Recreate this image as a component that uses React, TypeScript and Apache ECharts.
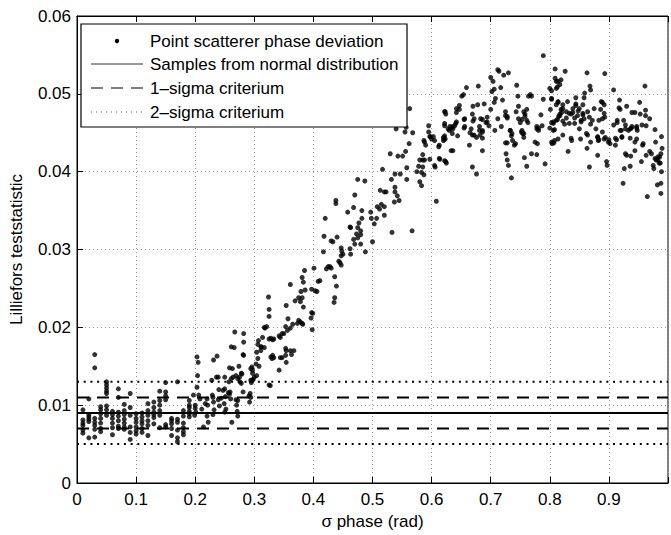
import React, { useEffect, useRef } from "react";
import * as echarts from "echarts";

// ---- data ----
const xTicks = [0, 0.1, 0.2, 0.3, 0.4, 0.5, 0.6, 0.7, 0.8, 0.9, 1];
const yTicks = [0, 0.01, 0.02, 0.03, 0.04, 0.05, 0.06];

// low region: columns of samples at sigma = 0.01 .. 0.19
const lowSigma = [0.01, 0.02, 0.03, 0.04, 0.05, 0.06, 0.07, 0.08, 0.09, 0.1, 0.11, 0.12, 0.13, 0.14, 0.15, 0.16, 0.17, 0.18, 0.19];
const lowStats = [
  [0.0094, 0.0081, 0.0077, 0.0074, 0.0068, 0.0064],
  [0.0108, 0.0088, 0.0085, 0.0082, 0.0079, 0.0058],
  [0.0165, 0.0148, 0.0083, 0.0078, 0.0074, 0.0069, 0.0059],
  [0.0098, 0.0094, 0.0089, 0.0083, 0.0077, 0.007, 0.0066],
  [0.013, 0.0126, 0.0122, 0.0118, 0.0115, 0.0099, 0.0094, 0.0087],
  [0.0092, 0.0088, 0.0083, 0.0077, 0.0071, 0.0062],
  [0.0121, 0.011, 0.0091, 0.0086, 0.008, 0.0073, 0.007],
  [0.0101, 0.0093, 0.0088, 0.0082, 0.0077, 0.0072, 0.0069],
  [0.0115, 0.0097, 0.0087, 0.0072, 0.0065, 0.0056],
  [0.0089, 0.0083, 0.0078, 0.0072, 0.0067, 0.0063],
  [0.009, 0.0085, 0.008, 0.0076, 0.007, 0.0065],
  [0.0102, 0.0093, 0.0087, 0.008, 0.0074, 0.0061],
  [0.0104, 0.0097, 0.0091, 0.0088, 0.0084, 0.0076],
  [0.0118, 0.0106, 0.01, 0.0093, 0.0087, 0.0071],
  [0.0129, 0.0117, 0.0112, 0.0107, 0.0075, 0.0072],
  [0.0083, 0.008, 0.0076, 0.007, 0.0061],
  [0.013, 0.0082, 0.0078, 0.0068, 0.0058, 0.0053],
  [0.0093, 0.0086, 0.0077, 0.0071, 0.0066, 0.0062],
  [0.0106, 0.01, 0.0097, 0.0092, 0.0089, 0.0085],
];

// [sigma, statistic] pairs
const risePoints = [
  [0.2, 0.01], [0.2, 0.0096], [0.201, 0.0091], [0.199, 0.0087], [0.197, 0.0113],
  [0.203, 0.0162], [0.205, 0.0155], [0.204, 0.0138], [0.203, 0.0123], [0.206, 0.0113], [0.208, 0.0108], [0.211, 0.0095], [0.214, 0.0072],
  [0.217, 0.0102], [0.22, 0.0108], [0.221, 0.01], [0.22, 0.0086], [0.222, 0.0078],
  [0.228, 0.0132], [0.231, 0.0158], [0.229, 0.0113], [0.231, 0.0104], [0.23, 0.011], [0.232, 0.0094], [0.23, 0.0088],
  [0.237, 0.0163], [0.236, 0.0136], [0.239, 0.0136], [0.24, 0.012], [0.239, 0.0107], [0.241, 0.0099],
  [0.244, 0.0109], [0.247, 0.0119], [0.25, 0.0136], [0.25, 0.0121], [0.251, 0.0111], [0.249, 0.0102], [0.252, 0.0095], [0.25, 0.0091],
  [0.256, 0.0116], [0.258, 0.0148], [0.258, 0.0114], [0.257, 0.013], [0.261, 0.0134], [0.263, 0.0147], [0.264, 0.0136], [0.261, 0.0175], [0.259, 0.0117], [0.26, 0.0108], [0.262, 0.0078],
  [0.267, 0.0194], [0.266, 0.0174], [0.269, 0.0138], [0.269, 0.0107], [0.27, 0.01], [0.271, 0.0092], [0.272, 0.0086], [0.272, 0.0134], [0.272, 0.0106],
  [0.274, 0.015], [0.275, 0.0136], [0.276, 0.013], [0.278, 0.0141], [0.278, 0.0128], [0.279, 0.014],
  [0.281, 0.0165], [0.282, 0.0164], [0.282, 0.0181], [0.282, 0.0192], [0.281, 0.0117],
  [0.291, 0.0112], [0.292, 0.0104], [0.293, 0.0115], [0.294, 0.011], [0.294, 0.0147], [0.294, 0.0132], [0.295, 0.0129], [0.296, 0.0149], [0.296, 0.0132], [0.297, 0.0141], [0.297, 0.0145], [0.298, 0.0133], [0.3, 0.0136],
];

const midPoints = [
  [0.303, 0.0153], [0.304, 0.0168], [0.304, 0.0138], [0.306, 0.016], [0.306, 0.0178], [0.307, 0.0183], [0.308, 0.015],
  [0.311, 0.017], [0.311, 0.0175], [0.312, 0.0175], [0.314, 0.0187], [0.317, 0.0174], [0.317, 0.02], [0.318, 0.0199], [0.321, 0.0201],
  [0.324, 0.0239], [0.325, 0.0223], [0.325, 0.0214], [0.325, 0.0185], [0.325, 0.0126], [0.327, 0.0125], [0.328, 0.0186], [0.328, 0.0162],
  [0.33, 0.016], [0.331, 0.0184], [0.331, 0.0164], [0.333, 0.0185], [0.333, 0.0161],
  [0.342, 0.0189], [0.342, 0.0145], [0.344, 0.0187], [0.344, 0.0161], [0.347, 0.0192], [0.347, 0.0161], [0.35, 0.0192],
  [0.353, 0.0201], [0.353, 0.0173], [0.353, 0.0164], [0.354, 0.017], [0.354, 0.0155], [0.354, 0.0228], [0.356, 0.0196], [0.357, 0.0211],
  [0.361, 0.0255], [0.361, 0.0199], [0.361, 0.017], [0.363, 0.0165], [0.365, 0.0204], [0.367, 0.017], [0.369, 0.0234],
  [0.373, 0.0205], [0.375, 0.0238], [0.375, 0.0209], [0.378, 0.0233], [0.378, 0.0207], [0.379, 0.0246],
  [0.381, 0.0264], [0.381, 0.0238], [0.381, 0.0205], [0.382, 0.0204], [0.383, 0.0258], [0.383, 0.0226], [0.385, 0.0273], [0.386, 0.0248],
  [0.396, 0.0212], [0.397, 0.0249], [0.397, 0.0219], [0.398, 0.0197], [0.399, 0.0218],
  [0.401, 0.0276], [0.403, 0.0247], [0.406, 0.0246], [0.408, 0.0259], [0.411, 0.026],
  [0.417, 0.0297], [0.418, 0.0317], [0.42, 0.034], [0.422, 0.0275], [0.425, 0.0278], [0.428, 0.0278], [0.43, 0.0276], [0.43, 0.0311], [0.433, 0.031],
  [0.435, 0.0232], [0.436, 0.0238], [0.436, 0.0265], [0.438, 0.0363], [0.438, 0.0359], [0.439, 0.0253], [0.44, 0.0316], [0.443, 0.0285], [0.445, 0.0283], [0.447, 0.028], [0.447, 0.0302], [0.447, 0.0292], [0.448, 0.0298],
];

const upperRisePoints = [
  [0.45, 0.0294], [0.458, 0.0348], [0.462, 0.0301], [0.462, 0.0329], [0.463, 0.0294], [0.463, 0.0328], [0.468, 0.0354], [0.468, 0.0313], [0.47, 0.037], [0.47, 0.0307],
  [0.473, 0.032], [0.475, 0.039], [0.475, 0.0315], [0.475, 0.0328], [0.477, 0.0334], [0.48, 0.0324], [0.48, 0.0319], [0.48, 0.0307], [0.482, 0.035], [0.482, 0.034],
  [0.487, 0.0388], [0.488, 0.0297], [0.497, 0.0348], [0.498, 0.034], [0.5, 0.031], [0.503, 0.0333], [0.507, 0.034],
  [0.508, 0.0355], [0.512, 0.0352], [0.513, 0.0376], [0.515, 0.0358], [0.517, 0.0403], [0.52, 0.0374], [0.52, 0.0344], [0.52, 0.0355], [0.523, 0.0374],
  [0.53, 0.0423], [0.532, 0.039], [0.533, 0.0322], [0.537, 0.0361], [0.538, 0.0397], [0.538, 0.038], [0.538, 0.0374], [0.54, 0.0455], [0.542, 0.0369], [0.543, 0.042], [0.545, 0.0363], [0.547, 0.0397],
  [0.551, 0.042], [0.555, 0.0451], [0.556, 0.0426], [0.557, 0.0457], [0.558, 0.0405], [0.558, 0.039], [0.562, 0.0436], [0.563, 0.0481], [0.567, 0.0324], [0.568, 0.045],
  [0.575, 0.04], [0.578, 0.0407], [0.58, 0.0415], [0.58, 0.0387], [0.583, 0.0399], [0.583, 0.0382], [0.585, 0.0422], [0.585, 0.0415], [0.585, 0.0406], [0.587, 0.044], [0.587, 0.0396], [0.588, 0.0438], [0.588, 0.0415], [0.59, 0.0434],
  [0.595, 0.0459], [0.595, 0.0451], [0.597, 0.0445], [0.597, 0.0416], [0.598, 0.0445], [0.6, 0.0442],
];

const plateauPoints = [
  [0.603, 0.0445], [0.605, 0.044], [0.605, 0.0408], [0.606, 0.0406], [0.608, 0.0362], [0.612, 0.0432], [0.613, 0.0434], [0.613, 0.0417], [0.614, 0.0416],
  [0.62, 0.0444], [0.62, 0.044], [0.621, 0.0442], [0.622, 0.0446], [0.622, 0.0462], [0.622, 0.0459], [0.622, 0.0414], [0.623, 0.0477], [0.623, 0.0442], [0.624, 0.0474], [0.624, 0.0413], [0.625, 0.0411],
  [0.628, 0.0455], [0.63, 0.0453], [0.632, 0.0455], [0.633, 0.0427], [0.635, 0.0449], [0.636, 0.0455], [0.636, 0.0427], [0.639, 0.0459], [0.642, 0.0464], [0.642, 0.0476], [0.644, 0.0446], [0.647, 0.048],
  [0.651, 0.0497], [0.654, 0.0499], [0.655, 0.0456], [0.655, 0.0467], [0.659, 0.0508], [0.664, 0.0434], [0.665, 0.045], [0.667, 0.0455], [0.669, 0.0447], [0.669, 0.0406], [0.67, 0.0484], [0.67, 0.0465],
  [0.672, 0.0447], [0.676, 0.0444], [0.676, 0.0397], [0.678, 0.0486], [0.679, 0.051], [0.681, 0.0453], [0.682, 0.0447], [0.683, 0.0468], [0.686, 0.0443], [0.686, 0.0467], [0.686, 0.0451], [0.686, 0.0427], [0.689, 0.0487],
  [0.692, 0.0463], [0.694, 0.047], [0.697, 0.0459], [0.7, 0.0521], [0.7, 0.048], [0.702, 0.0503], [0.704, 0.0516], [0.706, 0.0489], [0.707, 0.0453],
  [0.712, 0.0531], [0.712, 0.0468], [0.714, 0.0529], [0.717, 0.0508], [0.718, 0.0458], [0.722, 0.0524], [0.725, 0.0472], [0.725, 0.0437], [0.726, 0.0423], [0.728, 0.0469], [0.728, 0.0437], [0.728, 0.0415],
  [0.73, 0.0527], [0.73, 0.0408], [0.733, 0.0453], [0.735, 0.0446], [0.735, 0.0392], [0.737, 0.044], [0.74, 0.0434], [0.742, 0.0436], [0.743, 0.0477], [0.744, 0.0511], [0.746, 0.0497], [0.747, 0.0484],
  [0.75, 0.0463], [0.752, 0.0451], [0.753, 0.0467], [0.754, 0.0449], [0.756, 0.0444], [0.756, 0.0477], [0.757, 0.0418], [0.758, 0.0474], [0.761, 0.048], [0.761, 0.0407], [0.763, 0.0463], [0.764, 0.0497], [0.767, 0.0499], [0.769, 0.0497], [0.769, 0.0423],
  [0.775, 0.0438], [0.778, 0.0422], [0.778, 0.0455], [0.779, 0.0436], [0.781, 0.0456], [0.785, 0.0473], [0.787, 0.0459], [0.789, 0.0493], [0.789, 0.0549], [0.792, 0.041],
  [0.801, 0.048], [0.803, 0.0504], [0.803, 0.0493], [0.803, 0.0463], [0.804, 0.0436], [0.806, 0.0462], [0.807, 0.0437], [0.808, 0.0454], [0.809, 0.052], [0.811, 0.0516], [0.811, 0.0486], [0.813, 0.0509], [0.813, 0.0467], [0.814, 0.0489], [0.814, 0.0442], [0.815, 0.0471], [0.817, 0.0512], [0.817, 0.0474], [0.819, 0.0518], [0.819, 0.048], [0.82, 0.0476],
  [0.822, 0.0486], [0.822, 0.0465], [0.825, 0.0461], [0.826, 0.0529], [0.828, 0.0469], [0.83, 0.049], [0.831, 0.0426], [0.833, 0.0462], [0.836, 0.0474], [0.837, 0.044], [0.839, 0.0476], [0.842, 0.0469], [0.844, 0.0495], [0.844, 0.0487], [0.848, 0.0478],
  [0.85, 0.0455], [0.852, 0.0442], [0.853, 0.0466], [0.856, 0.0473], [0.856, 0.0486], [0.858, 0.0495], [0.859, 0.0501], [0.862, 0.0449], [0.863, 0.043], [0.863, 0.0527], [0.864, 0.0477], [0.867, 0.0406], [0.867, 0.047], [0.869, 0.0505], [0.869, 0.0461],
  [0.872, 0.0466], [0.875, 0.0481], [0.878, 0.0455], [0.881, 0.0444], [0.881, 0.0421], [0.882, 0.044], [0.883, 0.0466], [0.886, 0.048], [0.887, 0.049], [0.889, 0.0489], [0.889, 0.0451], [0.892, 0.0486], [0.892, 0.0442], [0.893, 0.047], [0.893, 0.0526], [0.894, 0.0444], [0.896, 0.0413], [0.897, 0.0408], [0.899, 0.0438],
  [0.9, 0.0441], [0.902, 0.0436], [0.908, 0.0505], [0.911, 0.0434], [0.913, 0.0441], [0.914, 0.0463], [0.917, 0.0482], [0.918, 0.0492], [0.919, 0.048], [0.921, 0.0453], [0.922, 0.0444], [0.924, 0.0385], [0.925, 0.0466], [0.926, 0.0404], [0.928, 0.0423], [0.928, 0.0455],
  [0.93, 0.0421], [0.93, 0.0484], [0.936, 0.0455], [0.936, 0.0407], [0.937, 0.042], [0.938, 0.0456], [0.939, 0.0476], [0.944, 0.0476], [0.944, 0.0427], [0.947, 0.0442], [0.947, 0.0458], [0.948, 0.0453],
  [0.952, 0.0489], [0.953, 0.0474], [0.955, 0.0413], [0.957, 0.0434], [0.961, 0.051], [0.962, 0.0479], [0.962, 0.0472], [0.963, 0.0459], [0.963, 0.0421], [0.965, 0.0368], [0.969, 0.0468], [0.972, 0.0423],
  [0.975, 0.0408], [0.976, 0.0404], [0.978, 0.0454], [0.979, 0.0438], [0.98, 0.0415], [0.982, 0.0383], [0.983, 0.0415], [0.985, 0.0411], [0.986, 0.0419], [0.987, 0.0411], [0.988, 0.0423], [0.988, 0.0372], [0.988, 0.0385], [0.989, 0.04], [0.989, 0.0445], [0.99, 0.043],
];

const plateauExtraPoints = [
  [0.622, 0.0477], [0.642, 0.0481], [0.647, 0.0485], [0.656, 0.0468], [0.669, 0.0474], [0.672, 0.0468],
  [0.631, 0.0458], [0.636, 0.0458], [0.641, 0.0462], [0.656, 0.0458], [0.681, 0.0458], [0.686, 0.0453], [0.694, 0.0464],
  [0.706, 0.0506], [0.708, 0.0494], [0.72, 0.0492], [0.725, 0.0477], [0.728, 0.0471], [0.747, 0.0468], [0.758, 0.0471], [0.761, 0.0466],
  [0.733, 0.0453], [0.736, 0.0449], [0.753, 0.0453], [0.756, 0.0449], [0.778, 0.0458], [0.781, 0.0453],
  [0.809, 0.0532], [0.814, 0.0516], [0.8, 0.0507], [0.811, 0.0507], [0.868, 0.051],
  [0.803, 0.0494], [0.814, 0.049], [0.822, 0.0481], [0.828, 0.0477], [0.817, 0.0472], [0.811, 0.0466], [0.806, 0.0464],
  [0.833, 0.0475], [0.839, 0.0481], [0.844, 0.0485], [0.85, 0.0481], [0.847, 0.0472], [0.856, 0.0475], [0.858, 0.0468], [0.842, 0.0462], [0.853, 0.0464],
  [0.8, 0.0456], [0.806, 0.0453], [0.803, 0.0438], [0.808, 0.044], [0.822, 0.0447], [0.836, 0.0443],
  [0.864, 0.0447], [0.869, 0.0438], [0.881, 0.0445], [0.883, 0.0441], [0.889, 0.0468], [0.892, 0.0475],
  [0.908, 0.046], [0.914, 0.0466], [0.919, 0.0453], [0.928, 0.046], [0.933, 0.0453], [0.939, 0.0458], [0.947, 0.0456], [0.956, 0.046],
  [0.911, 0.0443], [0.922, 0.0445], [0.936, 0.0443], [0.944, 0.0438], [0.958, 0.0436], [0.969, 0.0426], [0.978, 0.0417], [0.983, 0.0419],
];

const normalLevel = 0.009;
const oneSigmaLevels = [0.011, 0.007];
const twoSigmaLevels = [0.013, 0.005];

const legendLabels = [
  "Point scatterer phase deviation",
  "Samples from normal distribution",
  "1\u2013sigma criterium",
  "2\u2013sigma criterium",
];

const FONT = "'Liberation Sans', Arial, Helvetica, sans-serif";

export default function App() {
  const ref = useRef<HTMLDivElement>(null);

  useEffect(() => {
    if (!ref.current) return;
    const chart = echarts.init(ref.current, null, { renderer: "svg" });

    const scatterData: number[][] = [];
    lowSigma.forEach((s, i) => lowStats[i].forEach((v) => scatterData.push([s, v])));
    [risePoints, midPoints, upperRisePoints, plateauPoints, plateauExtraPoints].forEach((arr) =>
      arr.forEach((p) => scatterData.push([p[0], p[1]]))
    );

    const xMin = xTicks[0];
    const xMax = xTicks[xTicks.length - 1];
    const hLine = (name: string, y: number, type: any) => ({
      name,
      type: "line",
      data: [[xMin, y], [xMax, y]],
      symbol: "none",
      silent: true,
      lineStyle: { color: "#000", width: 2, type },
      z: 3,
    });

    const rowY = [41, 64, 88, 112];
    const legendGraphic: any[] = [
      {
        type: "rect",
        shape: { x: 81, y: 24, width: 326, height: 103 },
        style: { fill: "#fff", stroke: "#000", lineWidth: 1.2 },
        z: 100,
      },
      { type: "circle", shape: { cx: 117, cy: rowY[0], r: 2.2 }, style: { fill: "#000" }, z: 101 },
      { type: "line", shape: { x1: 91, y1: rowY[1], x2: 143, y2: rowY[1] }, style: { stroke: "#333", lineWidth: 1 }, z: 101 },
      { type: "line", shape: { x1: 91, y1: rowY[2], x2: 143, y2: rowY[2] }, style: { stroke: "#000", lineWidth: 1.2, lineDash: [12, 8] }, z: 101 },
      { type: "line", shape: { x1: 91, y1: rowY[3], x2: 143, y2: rowY[3] }, style: { stroke: "#555", lineWidth: 1, lineDash: [1, 4] }, z: 101 },
      ...legendLabels.map((t, i) => ({
        type: "text",
        x: 150,
        y: rowY[i],
        style: { text: t, fill: "#000", font: `17px ${FONT}`, textVerticalAlign: "middle", verticalAlign: "middle" },
        z: 101,
      })),
    ];

    chart.setOption({
      animation: false,
      backgroundColor: "#fff",
      textStyle: { fontFamily: FONT },
      grid: { left: 75, top: 16, right: -4, bottom: 48, show: true, borderColor: "#000", borderWidth: 1 },
      xAxis: [
        {
          type: "value",
          min: xMin,
          max: xMax,
          interval: 0.1,
          name: "\u03c3 phase (rad)",
          nameLocation: "middle",
          nameGap: 30,
          nameTextStyle: { fontSize: 17, color: "#000", fontFamily: FONT },
          axisLine: { lineStyle: { color: "#000", width: 1 } },
          axisTick: { inside: true, length: 6, lineStyle: { color: "#000" } },
          axisLabel: {
            fontSize: 17,
            color: "#000",
            margin: 8,
            fontFamily: FONT,
            formatter: (v: number) => (v >= 0.999 ? "" : String(parseFloat(v.toFixed(2)))),
          },
          splitLine: { show: true, lineStyle: { color: "#999", width: 1, type: [1, 3] } },
        },
        {
          type: "value",
          position: "top",
          min: xMin,
          max: xMax,
          interval: 0.1,
          axisLine: { lineStyle: { color: "#000", width: 1 } },
          axisTick: { inside: true, length: 6, lineStyle: { color: "#000" } },
          axisLabel: { show: false },
          splitLine: { show: false },
        },
      ],
      yAxis: {
        type: "value",
        min: yTicks[0],
        max: yTicks[yTicks.length - 1],
        interval: 0.01,
        name: "Lilliefors teststatistic",
        nameLocation: "middle",
        nameGap: 52,
        nameTextStyle: { fontSize: 17, color: "#000", fontFamily: FONT },
        axisLine: { show: true, lineStyle: { color: "#000", width: 1 } },
        axisTick: { show: true, inside: true, length: 6, lineStyle: { color: "#000" } },
        axisLabel: { fontSize: 17, color: "#000", margin: 6, fontFamily: FONT },
        splitLine: { show: true, lineStyle: { color: "#999", width: 1, type: [1, 3] } },
      },
      series: [
        {
          name: legendLabels[0],
          type: "scatter",
          data: scatterData,
          symbol: "circle",
          symbolSize: 5,
          itemStyle: { color: "#000" },
          silent: true,
          z: 4,
        },
        hLine(legendLabels[1], normalLevel, "solid"),
        ...oneSigmaLevels.map((v) => hLine(legendLabels[2], v, [12, 8])),
        ...twoSigmaLevels.map((v) => hLine(legendLabels[3], v, [2, 4.7])),
      ],
      graphic: legendGraphic,
    });

    return () => chart.dispose();
  }, []);

  return (
    <div
      ref={ref}
      style={{ position: "absolute", left: 0, top: 0, width: 671, height: 535, overflow: "hidden" }}
    />
  );
}
